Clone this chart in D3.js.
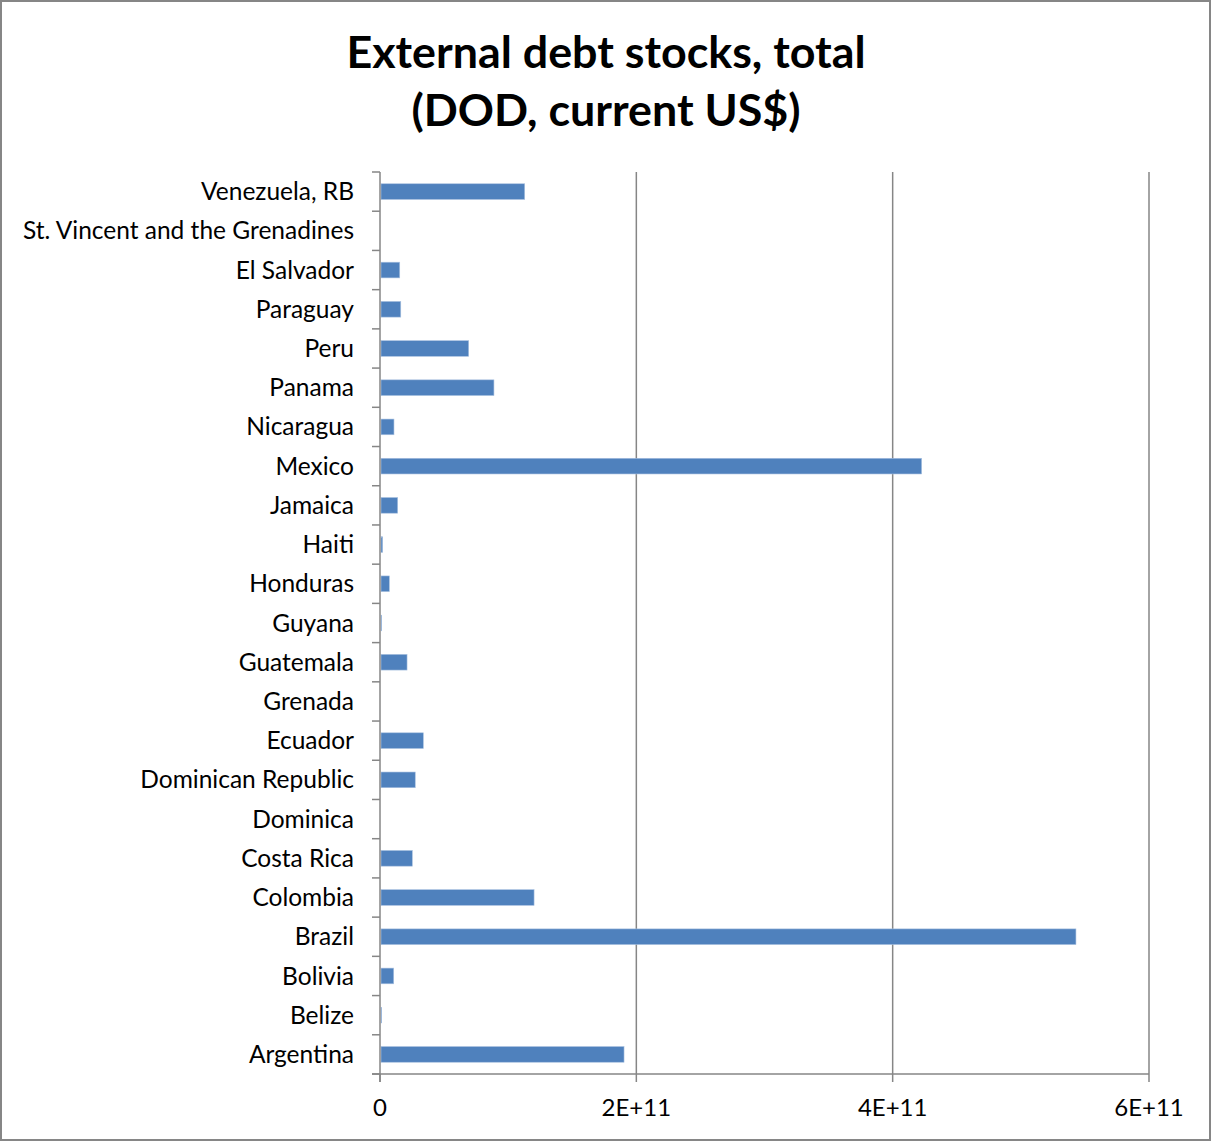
<!DOCTYPE html>
<html>
<head>
<meta charset="utf-8">
<script src="https://cdn.jsdelivr.net/npm/d3@7"></script>
<style>
  body { margin: 0; background: #fff; }
  svg { display: block; }
</style>
</head>
<body>
<svg id="chart" width="1212" height="1142"></svg>
<script>
// countries, bottom to top as in the chart
var countries = ["Argentina", "Belize", "Bolivia", "Brazil", "Colombia", "Costa Rica", "Dominica",
  "Dominican Republic", "Ecuador", "Grenada", "Guatemala", "Guyana", "Honduras", "Haiti", "Jamaica",
  "Mexico", "Nicaragua", "Panama", "Peru", "Paraguay", "El Salvador",
  "St. Vincent and the Grenadines", "Venezuela, RB"];
// debt stocks in current US$
var debt = [190.4e9, 1.3e9, 10.7e9, 543e9, 120.2e9, 25.2e9, 0.3e9,
  27.5e9, 33.8e9, 0.7e9, 21.1e9, 1.3e9, 7.3e9, 2.1e9, 13.8e9,
  422.6e9, 10.9e9, 88.9e9, 69.2e9, 16.2e9, 15.4e9,
  0.35e9, 112.9e9];
var xTicks = [0, 2e11, 4e11, 6e11];
var xTickLabels = ["0", "2E+11", "4E+11", "6E+11"];

var svg = d3.select("#chart");
var font = "Lato, 'Open Sans', sans-serif";

// outer frame
svg.append("rect").attr("x", 1).attr("y", 1).attr("width", 1209).attr("height", 1139)
  .attr("fill", "#fff").attr("stroke", "#868686").attr("stroke-width", 2);

// title
var title = svg.append("text").attr("text-anchor", "middle")
  .attr("font-family", font).attr("font-weight", "bold").attr("font-size", 44.8).attr("fill", "#000");
title.append("tspan").attr("x", 606).attr("y", 68).text("External debt stocks, total");
title.append("tspan").attr("x", 606).attr("y", 126).text("(DOD, current US$)");

// plot area edges (don't call it "top", that's window.top)
var plotL = 380, plotR = 1149, plotT = 172, plotB = 1074;

var x = d3.scaleLinear().domain([0, 6e11]).range([plotL, plotR]);
var y = d3.scaleBand().domain(countries.slice().reverse()).range([plotT, plotB])
  .paddingInner(0.6).paddingOuter(0.3);

// gridlines
svg.append("g").selectAll("line").data(xTicks.slice(1)).enter().append("line")
  .attr("x1", function(d){ return x(d); }).attr("x2", function(d){ return x(d); })
  .attr("y1", plotT).attr("y2", plotB)
  .attr("stroke", "#868686").attr("stroke-width", 1.5);

// bars
svg.append("g").selectAll("rect").data(countries).enter().append("rect")
  .attr("x", plotL + 1)
  .attr("y", function(d){ return y(d); })
  .attr("width", function(d, i){ return Math.max(0, x(debt[i]) - plotL - 1); })
  .attr("height", y.bandwidth())
  .attr("fill", "#4f81bd")
  .attr("stroke", "#a9c1e0").attr("stroke-width", 0.6);

// y axis with ticks at category boundaries
var yAxis = svg.append("g");
yAxis.append("line").attr("x1", plotL).attr("x2", plotL).attr("y1", plotT).attr("y2", plotB + 8)
  .attr("stroke", "#868686").attr("stroke-width", 1.5);
var step = (plotB - plotT) / countries.length;
yAxis.selectAll("line.tick").data(d3.range(countries.length + 1)).enter().append("line")
  .attr("class", "tick")
  .attr("x1", plotL - 8).attr("x2", plotL)
  .attr("y1", function(d){ return plotT + d * step; })
  .attr("y2", function(d){ return plotT + d * step; })
  .attr("stroke", "#868686").attr("stroke-width", 1.5);
yAxis.selectAll("text").data(countries).enter().append("text")
  .attr("x", plotL - 26)
  .attr("y", function(d){ return y(d) + y.bandwidth() / 2; })
  .attr("dy", "0.35em")
  .attr("text-anchor", "end")
  .attr("font-family", font).attr("font-size", 24.5).attr("fill", "#000")
  .text(function(d){ return d; });

// x axis
var xAxis = svg.append("g");
xAxis.append("line").attr("x1", plotL - 8).attr("x2", plotR).attr("y1", plotB).attr("y2", plotB)
  .attr("stroke", "#868686").attr("stroke-width", 1.5);
xAxis.selectAll("line.tick").data(xTicks).enter().append("line")
  .attr("class", "tick")
  .attr("x1", function(d){ return x(d); }).attr("x2", function(d){ return x(d); })
  .attr("y1", plotB).attr("y2", plotB + 8)
  .attr("stroke", "#868686").attr("stroke-width", 1.5);
xAxis.selectAll("text").data(xTicks).enter().append("text")
  .attr("x", function(d){ return x(d); })
  .attr("y", 1116)
  .attr("text-anchor", "middle")
  .attr("font-family", font).attr("font-size", 24).attr("fill", "#000")
  .text(function(d, i){ return xTickLabels[i]; });
</script>
</body>
</html>
